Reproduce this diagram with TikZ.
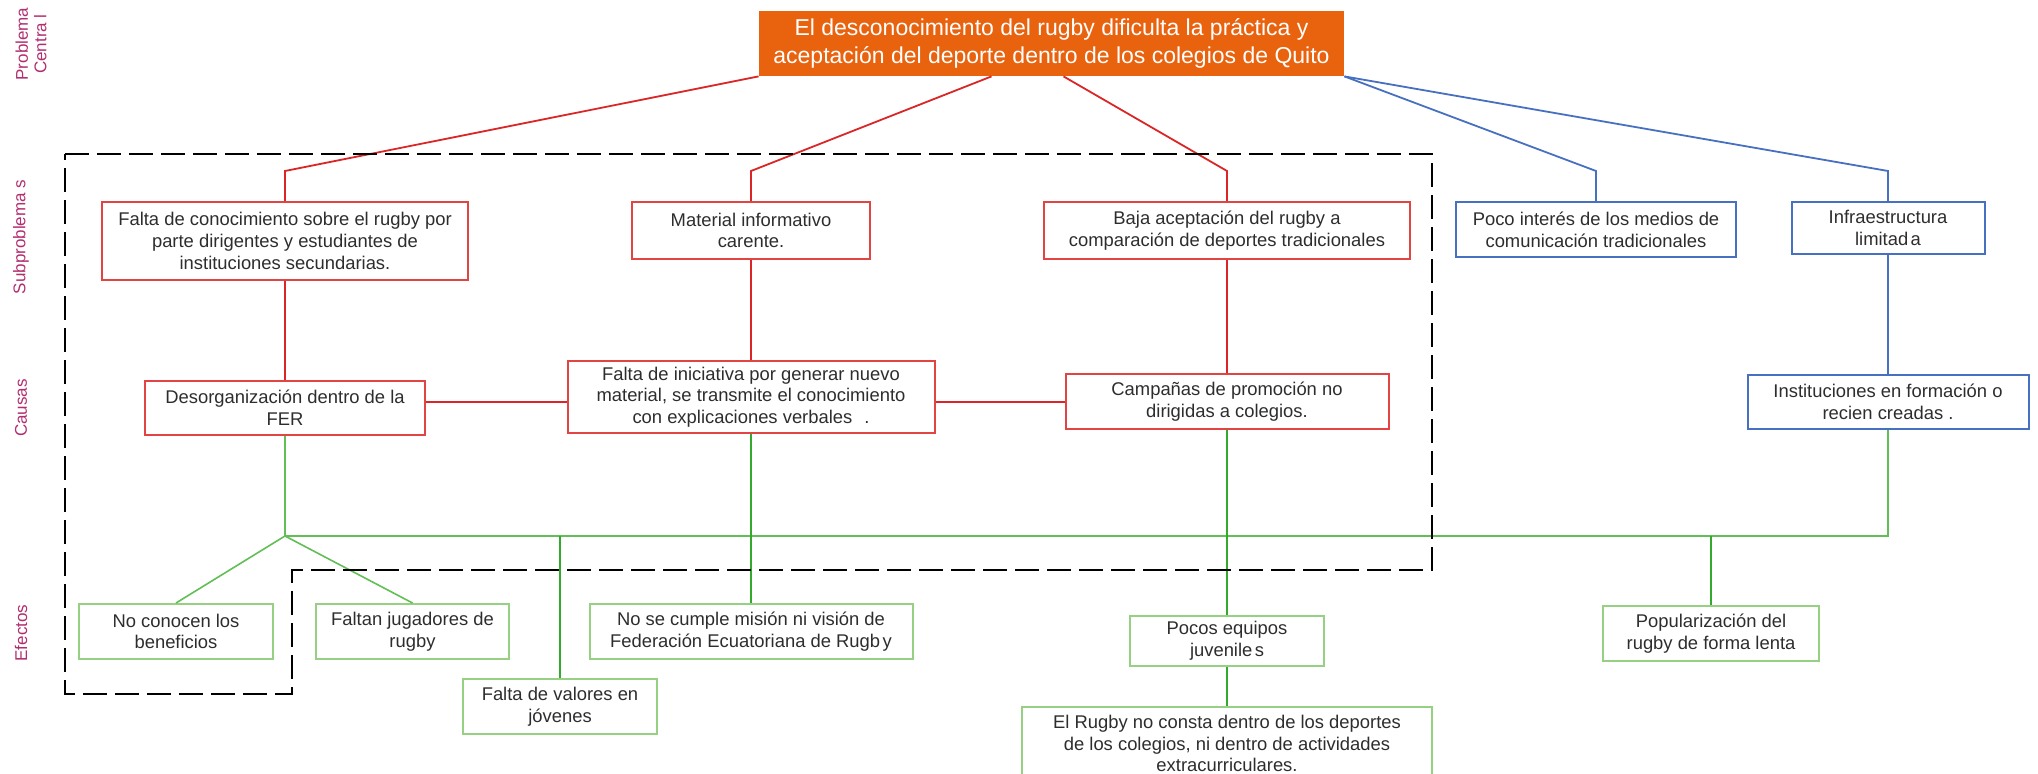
\documentclass[tikz,border=0pt]{standalone}
\usepackage{fontspec}
\setmainfont{Liberation Sans}
\usetikzlibrary{calc}

\definecolor{naranja}{RGB}{233,98,14}
\definecolor{rojo}{RGB}{218,38,38}
\definecolor{rojobox}{RGB}{226,68,68}
\definecolor{azul}{RGB}{72,112,192}
\definecolor{verde}{RGB}{52,170,44}
\definecolor{verdeclaro}{RGB}{98,190,86}
\definecolor{verdebox}{RGB}{150,208,130}
\definecolor{rotulo}{RGB}{178,46,112}
\definecolor{texto}{RGB}{45,45,45}

\begin{document}
\begin{tikzpicture}[x=0.5pt, y=-0.5pt,
	caja/.style={draw, line width=1pt, inner sep=0pt, align=center, text=texto,
		font=\fontsize{9.2}{10.85}\selectfont},
	cajaroja/.style={caja, draw=rojobox},
	cajaazul/.style={caja, draw=azul},
	cajaverde/.style={caja, draw=verdebox},
	central/.style={fill=naranja, inner sep=0pt, align=center, text=white,
		font=\fontsize{11.5}{14}\selectfont},
	linroja/.style={draw=rojo, line width=0.9pt},
	linazul/.style={draw=azul, line width=0.9pt},
	linverde/.style={draw=verdeclaro, line width=0.8pt},
	linverdeosc/.style={draw=verde, line width=1.1pt},
	rotulo/.style={rotate=90, align=center, text=rotulo,
		font=\fontsize{8.5}{9.2}\selectfont},
	contorno/.style={draw=black, line width=0.75pt, dash pattern=on 12pt off 4pt}]

	% ---- frame

	\useasboundingbox (0,0) rectangle (2038,774);

	% ---- levels

	\coordinate (knee)  at (0,171);
	\coordinate (causa) at (0,402);
	\coordinate (bus)   at (0,536);

	% ---- row labels

	\node[rotulo] (lc) at (31,44)  {Problema\\Centra l};
	\node[rotulo] (ls) at (21,237) {Subproblema s};
	\node[rotulo] (la) at (21,408) {Causas};
	\node[rotulo] (le) at (21,633) {Efectos};

	% ---- central problem

	\node[central, minimum width=292.5pt, minimum height=32.5pt] (C) at (1051.5,43.5)
		{El desconocimiento del rugby dificulta la práctica y\\aceptación del deporte dentro de los colegios de Quito};

	% ---- subproblems

	\node[cajaroja, minimum width=183pt, minimum height=39pt] (S1) at (285,241)
		{Falta de conocimiento sobre el rugby por\\parte dirigentes y estudiantes de\\instituciones secundarias.};
	\node[cajaroja, minimum width=119pt, minimum height=28.5pt] (S2) at (751,230.5)
		{Material informativo\\carente.};
	\node[cajaroja, minimum width=183pt, minimum height=28.5pt] (S3) at (1227,230.5)
		{Baja aceptación del rugby a\\comparación de deportes tradicionales};
	\node[cajaazul, minimum width=140pt, minimum height=27.5pt] (B1) at (1596,229.5)
		{Poco interés de los medios de\\comunicación tradicionales};
	\node[cajaazul, minimum width=96.5pt, minimum height=26pt] (B2) at (1888,228)
		{Infraestructura\\limitad\hspace{1.2pt}a};

	% ---- causes

	\node[cajaroja, minimum width=140pt, minimum height=27pt] (D1) at (285,408)
		{Desorganización dentro de la\\FER};
	\node[cajaroja, minimum width=183.5pt, minimum height=36pt] (D2) at (751,397)
		{Falta de iniciativa por generar nuevo\\material, se transmite el conocimiento\\con explicaciones verbales\hspace{6pt}.};
	\node[cajaroja, minimum width=161.5pt, minimum height=27.5pt] (D3) at (1227,401.5)
		{Campañas de promoción no\\dirigidas a colegios.};
	\node[cajaazul, minimum width=140.5pt, minimum height=27pt] (B3) at (1888,402)
		{Instituciones en formación o\\recien creadas .};

	% ---- effects

	\node[cajaverde, minimum width=97pt, minimum height=27.5pt] (E1) at (176,631.5)
		{No conocen los\\beneficios};
	\node[cajaverde, minimum width=96.5pt, minimum height=27.5pt] (E2) at (412.5,631.5)
		{Faltan jugadores de\\rugby};
	\node[cajaverde, minimum width=161.5pt, minimum height=27.5pt] (E3) at (751,631.5)
		{No se cumple misión ni visión de\\Federación Ecuatoriana de Rugb\hspace{1.2pt}y};
	\node[cajaverde, minimum width=97pt, minimum height=27.5pt] (E4) at (560,706.5)
		{Falta de valores en\\jóvenes};
	\node[cajaverde, minimum width=97pt, minimum height=25pt] (E5) at (1227,641)
		{Pocos equipos\\juvenile\hspace{1.2pt}s};
	\node[cajaverde, minimum width=205pt, inner ysep=4pt, anchor=north] (E6) at (1227,706)
		{El Rugby no consta dentro de los deportes\\de los colegios, ni dentro de actividades\\extracurriculares.};
	\node[cajaverde, minimum width=108pt, minimum height=27.5pt] (E7) at (1711,633.5)
		{Popularización del\\rugby de forma lenta};

	% ---- central to subproblems

	\draw[linroja] (C.south west) -- (S1.north |- knee) -- (S1.north);
	\draw[linroja] ($(C.south)+(-60,0)$) -- (S2.north |- knee) -- (S2.north);
	\draw[linroja] ($(C.south)+(12,0)$) -- (S3.north |- knee) -- (S3.north);
	\draw[linazul] (C.south east) -- (B1.north |- knee) -- (B1.north);
	\draw[linazul] (C.south east) -- (B2.north |- knee) -- (B2.north);

	% ---- subproblems to causes

	\draw[linroja] (S1.south) -- (D1.north);
	\draw[linroja] (S2.south) -- (D2.north);
	\draw[linroja] (S3.south) -- (D3.north);
	\draw[linazul] (B2.south) -- (B3.north);
	\draw[linroja] (D1.east |- causa) -- (D2.west |- causa);
	\draw[linroja] (D2.east |- causa) -- (D3.west |- causa);

	% ---- causes to effects

	\draw[linverde] (D1.south) -- (D1.south |- bus) -- (B3.south |- bus) -- (B3.south);
	\draw[linverde] (D1.south |- bus) -- (E1.north);
	\draw[linverde] (D1.south |- bus) -- (E2.north);
	\draw[linverdeosc] (E4.north |- bus) -- (E4.north);
	\draw[linverdeosc] (E7.north |- bus) -- (E7.north);
	\draw[linverdeosc] (D2.south) -- (E3.north);
	\draw[linverdeosc] (D3.south) -- (E5.north);
	\draw[linverdeosc] (E5.south) -- (E6.north);

	% ---- dashed outline

	\draw[contorno] (65,154) -- (1432,154) -- (1432,570) -- (292,570)
		-- (292,694) -- (65,694) -- cycle;

\end{tikzpicture}
\end{document}
